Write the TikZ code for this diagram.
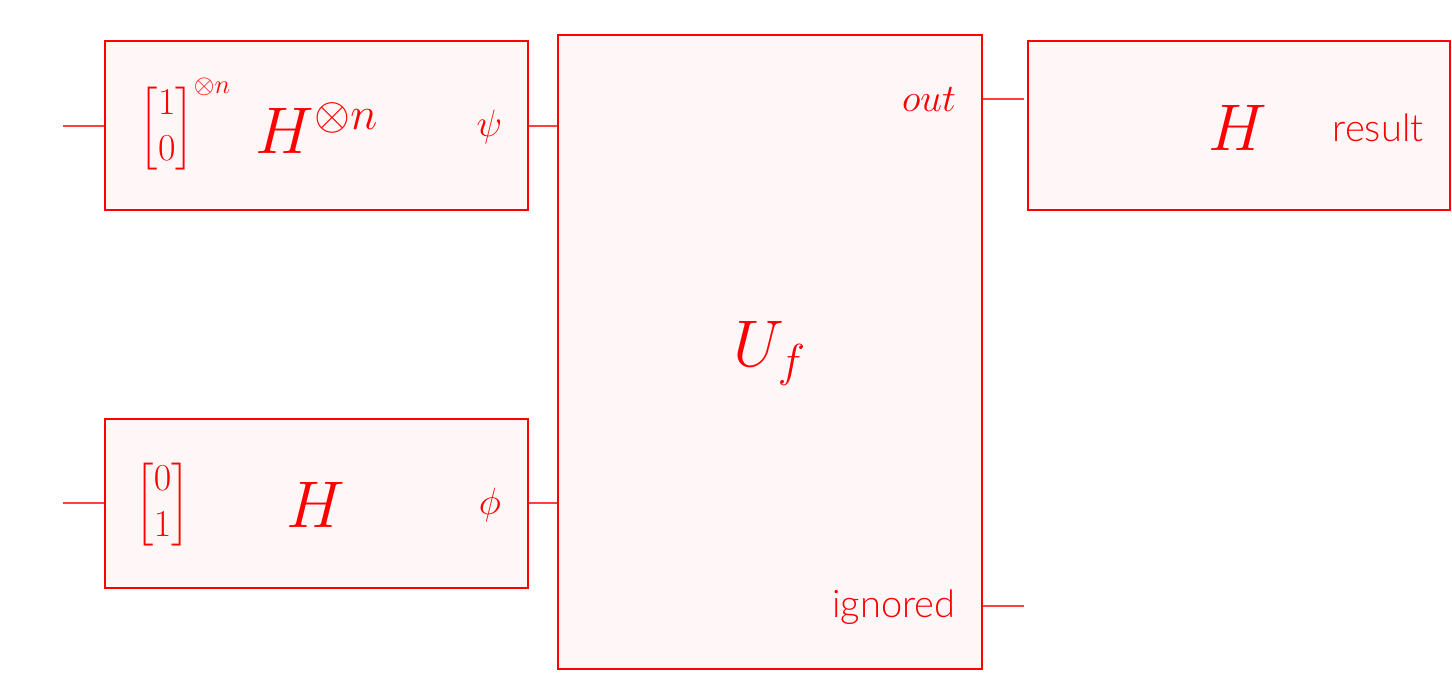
\RequirePackage{fix-cm}
\documentclass[tikz,border=0pt]{standalone}
\usepackage{amsmath}
\usepackage{fontspec}
\newfontfamily\latofont{Lato Light}
\definecolor{boxfill}{HTML}{FFF7F7}
\begin{document}
\begin{tikzpicture}[x=0.5pt,y=-0.5pt,
  box/.style={draw=red,line width=1pt,fill=boxfill,inner sep=0pt},
  wire/.style={draw=red!75,line width=0.6pt},
  lbl/.style={text=red,inner sep=0pt},
  big/.style={lbl,font=\fontsize{33}{38}\selectfont},
  small/.style={lbl,font=\fontsize{19}{22.8}\selectfont},
  word/.style={lbl,font=\latofont\fontsize{19}{23}\selectfont}]
\useasboundingbox (0,0) rectangle (1452,677);
% boxes
\node[box,minimum width=211.5pt,minimum height=84.5pt] (A) at (316.5,125.5) {};
\node[box,minimum width=211.5pt,minimum height=84.5pt] (B) at (316.5,503.5) {};
\node[box,minimum width=212pt,minimum height=317pt] (U) at (770,352) {};
\node[box,minimum width=211pt,minimum height=84.5pt] (R) at (1239,125.5) {};
% texts box A
\node[small] (va) at (185.5,126) {$\begin{bmatrix}1\\0\end{bmatrix}^{\otimes n}$};
\node[big] (ha) at (317,128) {$H^{\otimes n}$};
\node[small] (psi) at (489.5,126.5) {$\psi$};
% texts box B
\node[small] (vb) at (162.5,504.5) {$\begin{bmatrix}0\\1\end{bmatrix}$};
\node[big] (hb) at (316,505) {$H$};
\node[small] (phi) at (490,505) {$\phi$};
% U
\node[big] (uf) at (770,353) {$U_f$};
\node[lbl,font=\fontsize{19.5}{23}\selectfont] (out) at (929,99) {$out$};
\node[word] (ign) at (894,607) {ignored};
% R
\node[big] (hr) at (1238,128) {$H$};
\node[word] (res) at (1378,128) {result};
% wires
\coordinate (ain) at (63,126);
\coordinate (bin) at (63,503);
\coordinate (outy) at (982,99);
\coordinate (outend) at (1024,99);
\coordinate (igny) at (982,606);
\coordinate (ignend) at (1024,606);
\draw[wire] (ain) -- (ain -| A.west);
\draw[wire] (bin) -- (bin -| B.west);
\draw[wire] (ain -| A.east) -- (ain -| U.west);
\draw[wire] (bin -| B.east) -- (bin -| U.west);
\draw[wire] (outy -| U.east) -- (outend);
\draw[wire] (igny -| U.east) -- (ignend);
\end{tikzpicture}
\end{document}
